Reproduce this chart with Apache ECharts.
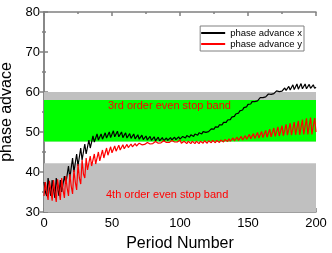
<!DOCTYPE html>
<html><head><meta charset="utf-8">
<script src="https://cdn.jsdelivr.net/npm/echarts@6/dist/echarts.min.js"></script>
<style>html,body{margin:0;padding:0;background:#fff}#c{width:332px;height:253px}</style>
</head><body><div id="c"></div>
<script>
var periods = [];
for (var i = 0; i <= 200; i++) periods.push(i);
var phaseX = [
37.5,35,34,38.5,36,34,38,35.5,33.5,38.5,36,34,38,35,34.5,39,
37,36.5,41.5,38.5,38,43.5,40,39.5,44.5,41.5,41,46,43,42.5,47,44.5,44.5,48,46,46,
49,47.5,47.5,49.5,48,48,49.5,48.2,48,49.8,48.5,48.3,50,48.6,48.5,
50.3,48.8,48.7,50.2,48.8,48.6,50,48.6,48.5,49.8,48.5,48.4,49.6,48.4,48.3,49.5,48.3,48.2,49.3,48.2,48.1,49.2,48.1,48,49,48,47.9,48.9,47.9,47.8,48.8,47.8,47.8,48.7,47.8,47.8,48.6,47.8,47.8,48.5,
47.9,47.9,48.6,48,48,48.7,48.1,48.1,48.8,48.2,48.3,48.9,48.4,48.5,49.1,48.6,48.7,49.3,48.8,48.9,49.5,49.1,49.2,49.8,49.4,49.5,50.1,49.7,49.9,50.4,
50.1,50.3,50.8,50.5,50.7,51.3,51,51.2,51.8,51.5,51.8,52.4,52.1,52.4,53,52.8,53.1,53.7,53.5,53.9,54.5,54.3,54.7,55.3,55.1,55.5,56.1,55.9,56.3,56.9,
56.7,57,57.6,57.3,57.6,58.1,57.8,58.1,58.6,58.3,58.6,59.1,58.8,59,59.5,59.2,59.4,59.9,59.6,59.8,60.3,59.9,60.1,60.6,60.2,
60.3,61,60.4,60.5,61.4,60.5,60.7,61.8,60.6,60.9,62,60.7,61,62.1,60.8,61,62,60.8,61,61.9,60.9,61,61.8,60.9,61.2
];
var phaseY = [
34,37.5,35,33,37.8,35.5,32.8,38,35,32.5,38.2,35.5,33,38.5,35.5,33.5,
39,36,34,39.5,36.5,34.5,40.5,37.5,35.5,42,38.5,37,43,39.5,38.5,43.5,40.5,40,44,41.5,41,44.5,42,42,45,42.8,42.8,45.5,43.5,43.5,
46,44.2,44.3,46.3,44.8,44.8,46.5,45.2,45.2,46.7,45.5,45.6,46.8,45.8,45.9,
46.9,46.1,46.2,47,46.3,46.4,47.1,46.5,46.6,47.2,46.7,46.8,47.3,46.9,46.9,47.4,47,47,47.5,47.1,47.1,47.6,47.2,47.2,47.7,47.3,47.3,47.8,47.4,47.4,47.8,47.4,47.5,47.9,47.5,47.5,48,47.5,47.6,48,
47.2,47.1,47.7,47.2,47.1,47.7,47.2,47.1,47.7,47.2,47.1,47.7,47.2,47.1,47.7,47.2,47.2,47.8,47.3,47.2,47.8,47.3,47.3,47.9,47.4,47.3,47.9,47.4,47.4,48,47.5,47.5,48.1,47.6,47.6,48.3,47.7,47.7,48.5,47.8,47.8,48.7,47.9,48,48.9,48,48.1,49.1,48.2,48.2,
49.4,48.3,48.3,49.6,48.4,48.4,49.9,48.5,48.5,50.1,48.6,48.6,50.4,48.7,48.7,50.7,48.8,48.8,51,48.9,48.9,51.3,49,49,51.6,49.1,49,51.9,49.2,49,52.2,49.2,49,52.5,49.3,49,52.8,49.3,49,53.1,49.4,49,53.4,49.4,48.9,53.6,49.4,48.9,53.5,50
];
var seriesNames = ['phase advance x', 'phase advance y'];
var xTicks = [0, 50, 100, 150, 200];
var yTicks = [30, 40, 50, 60, 70, 80];
var lowerBand = [30, 42.2];
var upperGrayBand = [47.6, 60];
var greenBand = [47.6, 58];
var bandLabels = ['3rd order even stop band', '4th order even stop band'];

var chart = echarts.init(document.getElementById('c'), null, {renderer: 'canvas'});
function pairs(ys) { return periods.map(function (p, i) { return [p, ys[i]]; }); }
var frame = {color: '#808080', width: 1.5};
var axBase = {
  axisLine: {show: true, lineStyle: frame},
  axisTick: {show: true, inside: true, length: 4, lineStyle: frame},
  minorTick: {show: true, splitNumber: 2, length: 2, lineStyle: frame},
  splitLine: {show: false}
};
chart.setOption({
  animation: false,
  grid: {left: 44, right: 16, top: 12, bottom: 41, containLabel: false, outerBoundsMode: 'none'},
  legend: {
    data: seriesNames, orient: 'vertical', right: 28, top: 26, icon: 'rect',
    itemWidth: 24, itemHeight: 2, itemGap: 1, padding: [2, 2, 2, 1],
    borderColor: '#808080', borderWidth: 1, backgroundColor: '#fff',
    textStyle: {fontSize: 9.5, color: '#000', fontFamily: 'Liberation Sans'}
  },
  xAxis: [
    Object.assign({type: 'value', min: 0, max: 200, interval: 50,
      name: 'Period Number', nameLocation: 'middle', nameGap: 24,
      nameTextStyle: {fontSize: 16, color: '#000', fontFamily: 'Liberation Sans'},
      axisLabel: {fontSize: 13, color: '#000', margin: 5, fontFamily: 'Liberation Sans'}}, axBase),
    Object.assign({type: 'value', min: 0, max: 200, interval: 50, position: 'top',
      axisLabel: {show: false}}, axBase)
  ],
  yAxis: [
    Object.assign({type: 'value', min: 30, max: 80, interval: 10,
      name: 'phase advace', nameLocation: 'middle', nameGap: 24,
      nameTextStyle: {fontSize: 16, color: '#000', fontFamily: 'Liberation Sans'},
      axisLabel: {fontSize: 13, color: '#000', margin: 4, fontFamily: 'Liberation Sans'}}, axBase),
    Object.assign({type: 'value', min: 30, max: 80, interval: 10, position: 'right',
      axisLabel: {show: false}}, axBase)
  ],
  series: [
    {
      name: 'bands', type: 'line', data: [], silent: true,
      markArea: {silent: true, data: [
        [{yAxis: lowerBand[0], itemStyle: {color: '#c0c0c0'}}, {yAxis: lowerBand[1]}],
        [{yAxis: upperGrayBand[0], itemStyle: {color: '#c0c0c0'}}, {yAxis: upperGrayBand[1]}],
        [{yAxis: greenBand[0], itemStyle: {color: '#00ff00'}}, {yAxis: greenBand[1]}]
      ]}
    },
    {name: seriesNames[0], type: 'line', data: pairs(phaseX), symbol: 'none',
      lineStyle: {color: '#000', width: 1.2}, itemStyle: {color: '#000'}, z: 3},
    {name: seriesNames[1], type: 'line', data: pairs(phaseY), symbol: 'none',
      lineStyle: {color: '#ff0000', width: 1.2}, itemStyle: {color: '#ff0000'}, z: 3}
  ],
  graphic: [
    {type: 'text', left: 108, top: 100, z: 10, style: {text: bandLabels[0], fill: '#ff0000', fontSize: 11, fontFamily: 'Liberation Sans'}},
    {type: 'text', left: 106, top: 189, z: 10, style: {text: bandLabels[1], fill: '#ff0000', fontSize: 11, fontFamily: 'Liberation Sans'}}
  ]
});
</script></body></html>
